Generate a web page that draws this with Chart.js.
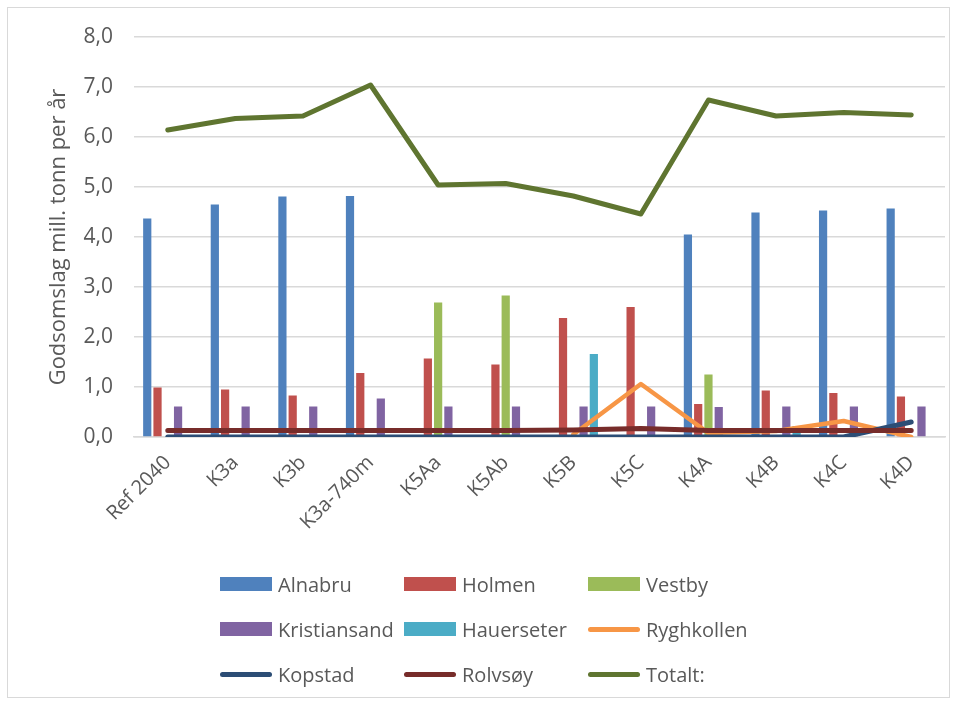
<!DOCTYPE html>
<html>
<head>
<meta charset="utf-8">
<script src="https://cdn.jsdelivr.net/npm/chart.js@4/dist/chart.umd.min.js"></script>
<style>
  body { margin: 0; background: #fff; font-family: "Open Sans", sans-serif; }
  #wrap { position: relative; width: 957px; height: 704px; }
  #frame { position: absolute; left: 7px; top: 7px; width: 941px; height: 689px; border: 1px solid #d9d9d9; }
  #legend { position: absolute; left: 220px; top: 570px; display: grid; grid-template-columns: 184px 184px 184px; row-gap: 17px; }
  .item { display: flex; align-items: center; height: 28px; color: #595959; font-size: 20px; }
  .sw { width: 52px; margin-right: 6px; }
</style>
</head>
<body>
<div id="wrap">
  <div id="frame"></div>
  <canvas id="grafico" width="957" height="704" style="position:absolute;left:0;top:0"></canvas>
  <div id="legend"></div>
</div>
<script>
const categories = ['Ref 2040', 'K3a', 'K3b', 'K3a-740m', 'K5Aa', 'K5Ab', 'K5B', 'K5C', 'K4A', 'K4B', 'K4C', 'K4D'];
const yTicks = [0, 1, 2, 3, 4, 5, 6, 7, 8];

const alnabru      = [4.37, 4.65, 4.81, 4.82, 0, 0, 0, 0, 4.05, 4.49, 4.53, 4.57];
const holmen       = [0.99, 0.95, 0.83, 1.28, 1.57, 1.45, 2.38, 2.60, 0.66, 0.93, 0.88, 0.81];
const vestby       = [0, 0, 0, 0, 2.69, 2.83, 0, 0, 1.25, 0, 0, 0];
const kristiansand = [0.61, 0.61, 0.61, 0.77, 0.61, 0.61, 0.61, 0.61, 0.60, 0.61, 0.61, 0.61];
const hauerseter   = [0, 0, 0, 0, 0, 0, 1.66, 0, 0, 0.22, 0, 0];
const ryghkollen   = [null, null, null, null, null, null, 0.05, 1.06, 0.08, 0.12, 0.32, 0.0];
const kopstad      = [0, 0, 0, 0, 0, 0, 0, 0, 0, 0, 0, 0.30];
const rolvsoy      = [0.13, 0.13, 0.13, 0.13, 0.13, 0.13, 0.14, 0.17, 0.13, 0.13, 0.13, 0.13];
const totalt       = [6.14, 6.37, 6.42, 7.04, 5.04, 5.07, 4.82, 4.46, 6.74, 6.42, 6.49, 6.44];

const grey = '#595959';
const font = { family: '"Open Sans", sans-serif', size: 20 };

function bar(label, data, color) {
  return { type: 'bar', label, data, backgroundColor: color, borderColor: color, order: 5,
           categoryPercentage: 0.76, barPercentage: 0.8 };
}
function line(label, data, color, width, order) {
  return { type: 'line', label, data, borderColor: color, backgroundColor: color, borderWidth: width,
           pointRadius: 0, tension: 0, borderCapStyle: 'round', borderJoinStyle: 'round', order, spanGaps: false };
}

const datasets = [
  bar('Alnabru', alnabru, '#4F81BD'),
  bar('Holmen', holmen, '#C0504D'),
  bar('Vestby', vestby, '#9BBB59'),
  bar('Kristiansand', kristiansand, '#8064A2'),
  bar('Hauerseter', hauerseter, '#4BACC6'),
  line('Ryghkollen', ryghkollen, '#F79646', 4.5, 4),
  line('Kopstad', kopstad, '#2C4D75', 5, 3),
  line('Rolvsøy', rolvsoy, '#772C2A', 5, 2),
  line('Totalt:', totalt, '#5F7530', 5, 1)
];

const ctx = document.getElementById('grafico').getContext('2d');
const chart = new Chart(ctx, {
  data: { labels: categories, datasets },
  options: {
    responsive: false,
    animation: false,
    layout: { padding: { left: 40, right: 12, top: 37, bottom: 157 } },
    plugins: { legend: { display: false }, tooltip: { enabled: false } },
    scales: {
      x: {
        grid: { display: false },
        border: { color: '#d9d9d9', width: 1.5 },
        ticks: { color: grey, font, minRotation: 45, maxRotation: 45, padding: 6 },
        afterFit: s => { s.height = 110; }
      },
      y: {
        min: 0, max: 8,
        afterBuildTicks: s => { s.ticks = yTicks.map(v => ({ value: v })); },
        grid: { color: '#d9d9d9', lineWidth: 1.5, drawTicks: false },
        border: { display: false },
        ticks: { color: grey, font: { ...font, size: 21 }, padding: 21, callback: v => v.toFixed(1).replace('.', ',') },
        title: { display: true, text: 'Godsomslag mill. tonn per år', color: grey, font: { ...font, size: 22 }, padding: { top: 6, bottom: 0 } },
        afterFit: s => { s.width = 94; }
      }
    }
  }
});

const legend = document.getElementById('legend');
datasets.forEach(ds => {
  const item = document.createElement('div');
  item.className = 'item';
  const sw = document.createElement('div');
  sw.className = 'sw';
  if (ds.type === 'bar') {
    sw.style.height = '14px';
    sw.style.background = ds.backgroundColor;
  } else {
    sw.style.height = '5px';
    sw.style.borderRadius = '3px';
    sw.style.background = ds.borderColor;
  }
  const txt = document.createElement('span');
  txt.textContent = ds.label;
  item.appendChild(sw);
  item.appendChild(txt);
  legend.appendChild(item);
});
</script>
</body>
</html>
